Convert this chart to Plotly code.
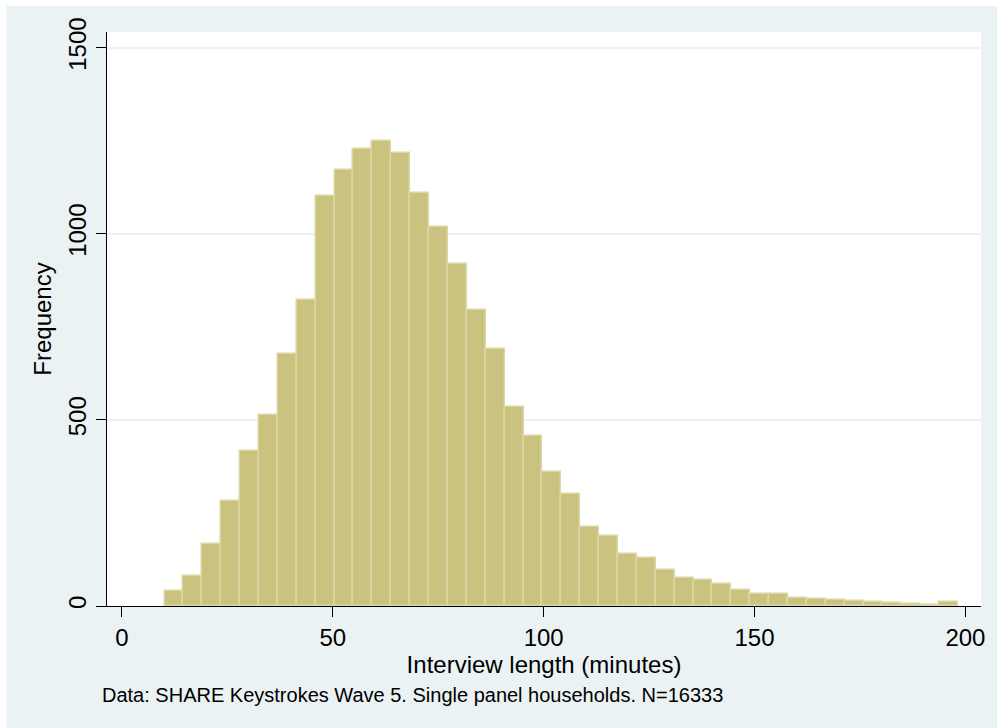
import plotly.graph_objects as go

# Histogram of interview length: 42 equal-width bins
bin_start = 10.1      # left edge of first bin (minutes)
bin_width = 4.48      # bin width (minutes)
counts = [40, 81, 167, 281, 417, 514, 678, 821, 1101, 1170,
          1227, 1248, 1218, 1109, 1018, 919, 796, 690, 535, 458,
          361, 302, 212, 189, 141, 130, 98, 76, 70, 60,
          43, 31, 31, 21, 19, 16, 13, 10, 9, 6,
          4, 10]

x_ticks = [0, 50, 100, 150, 200]
y_ticks = [0, 500, 1000, 1500]
x_title = "Interview length (minutes)"
y_title = "Frequency"
caption = "Data: SHARE Keystrokes Wave 5. Single panel households. N=16333"

centers = [bin_start + bin_width * (i + 0.5) for i in range(len(counts))]

BG = "#EAF2F3"
FONT = "Liberation Sans, Arial, sans-serif"

fig = go.Figure(
    go.Bar(
        x=centers,
        y=counts,
        width=bin_width,
        marker=dict(color="#C9C37F", line=dict(color="#DBD6A4", width=1.5)),
        hoverinfo="x+y",
    )
)

fig.update_layout(
    width=997,
    height=728,
    margin=dict(l=107, r=14, t=32, b=122),
    paper_bgcolor=BG,
    plot_bgcolor="white",
    showlegend=False,
    bargap=0,
    font=dict(family=FONT, size=24, color="black"),
    xaxis=dict(
        range=[-3.55, 203.7],
        tickvals=x_ticks,
        ticks="outside",
        ticklen=10,
        tickwidth=1,
        tickcolor="black",
        showline=True,
        linecolor="black",
        linewidth=1,
        showgrid=False,
        zeroline=False,
        tickfont=dict(size=24),
        title=dict(text=x_title, font=dict(size=24), standoff=2),
    ),
    yaxis=dict(
        range=[0, 1542],
        tickvals=y_ticks,
        tickangle=-90,
        ticks="outside",
        ticklen=10,
        tickwidth=1,
        tickcolor="black",
        showline=True,
        linecolor="black",
        linewidth=1,
        showgrid=True,
        gridcolor=BG,
        gridwidth=2,
        zeroline=False,
        tickfont=dict(size=24),
        title=dict(text=y_title, font=dict(size=24), standoff=6),
    ),
    annotations=[
        dict(
            text=caption,
            xref="paper", yref="paper",
            x=-0.0077, y=-0.155,
            xanchor="left", yanchor="middle",
            showarrow=False,
            font=dict(family=FONT, size=20, color="black"),
        )
    ],
    shapes=[
        # thin white border along the top and left edges of the canvas
        dict(type="rect", xref="paper", yref="paper",
             x0=-0.125, x1=1.02, y0=1.0453, y1=1.06,
             fillcolor="white", line=dict(width=0), layer="above"),
        dict(type="rect", xref="paper", yref="paper",
             x0=-0.125, x1=-0.1149, y0=-0.3, y1=1.06,
             fillcolor="white", line=dict(width=0), layer="above"),
    ],
)

fig.write_html("out.html")
